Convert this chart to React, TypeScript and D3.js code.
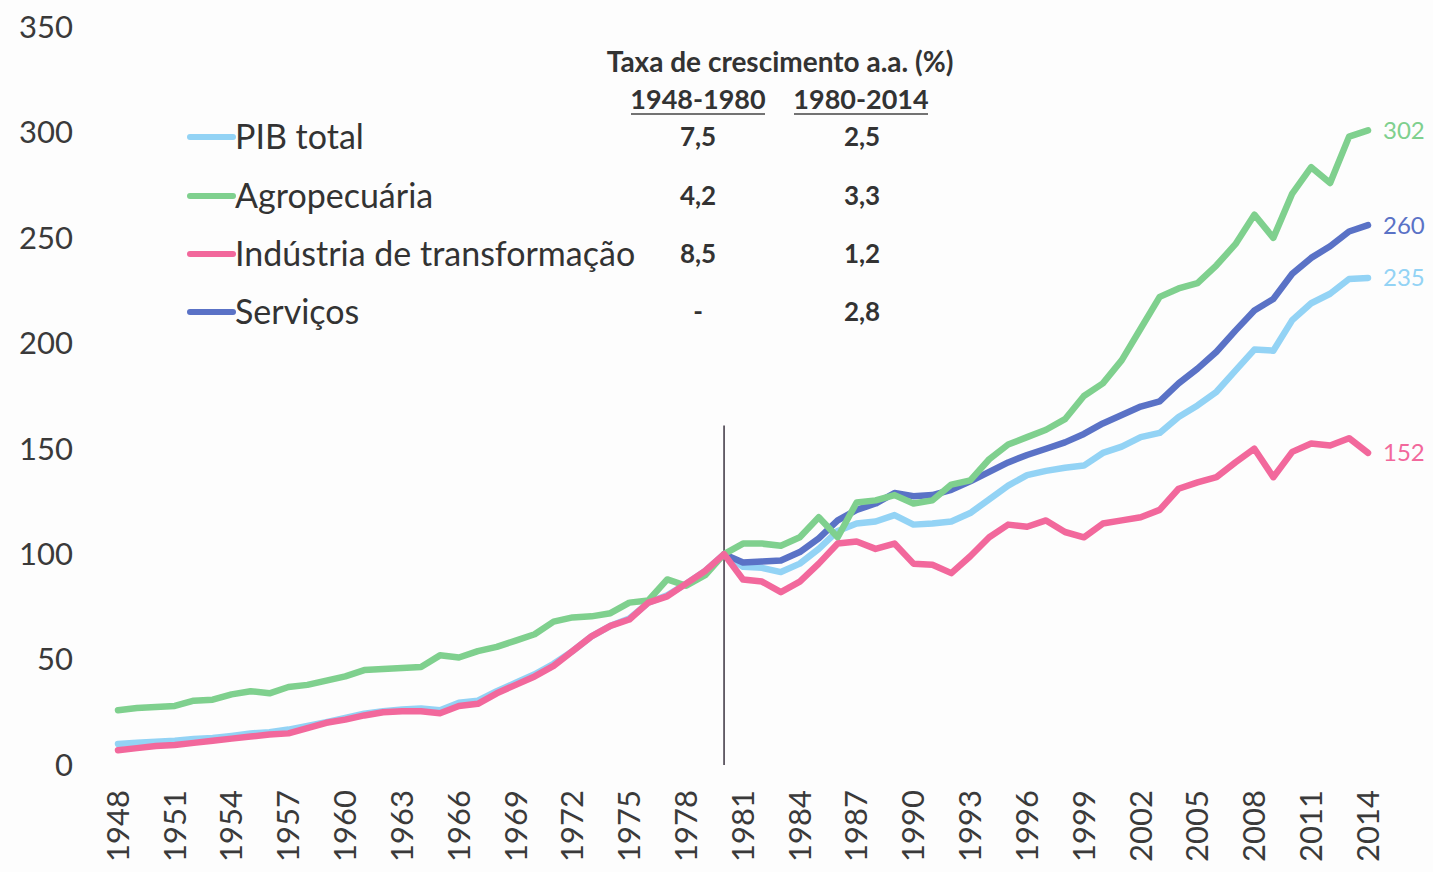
import React, { useEffect, useRef } from 'react';
import * as d3 from 'd3';

// Index (1980 = 100)
const yearsEarly = d3.range(1948, 1981);
const yearsLate = d3.range(1980, 2015);

const pibEarly = [
  10, 10.5, 11, 11.5, 12.3, 12.8, 13.8, 15, 15.5, 16.8, 18.5, 20.3, 22.3, 24.3, 25.5, 26.3, 26.8,
  26, 29.5, 30.5, 35, 39, 43, 48, 54, 61, 66, 69.5, 77, 80.5, 86, 92, 100,
];
const pibLate = [
  100, 94, 93.5, 91.5, 95.5, 102.5, 111, 114.5, 115.5, 118.5, 114, 114.5, 115.5, 119.5, 126, 132.5,
  137.5, 139.5, 141, 142, 148, 151, 155.5, 157.5, 165, 170.5, 177, 187, 197, 196.5, 211, 219, 223.5,
  230.5, 231,
];

const agroEarly = [
  26, 27, 27.5, 28, 30.5, 31, 33.5, 35, 34, 37, 38, 40, 42, 45, 45.5, 46, 46.5, 52, 51, 54, 56, 59,
  62, 68, 70, 70.5, 72, 77, 78, 88, 85, 90, 100,
];
const agroLate = [
  100, 105, 105, 104, 108, 117.5, 108, 124.5, 125.5, 128, 124, 125.5, 133, 135, 145, 152, 155.5,
  159, 164, 175, 181, 192, 207, 222, 226, 228.5, 237, 247, 261, 250, 271, 283.5, 276, 298, 301,
];

const indEarly = [
  7, 8, 9, 9.5, 10.5, 11.5, 12.5, 13.5, 14.5, 15, 17.5, 20, 21.5, 23.5, 25, 25.5, 25.5, 24.5, 28,
  29, 34, 38, 42, 47, 54, 61, 66, 69, 77, 80, 86, 92, 100,
];
const indLate = [
  100, 88, 87, 82, 87, 95.5, 105, 106, 102.5, 105, 95.5, 95, 91, 99, 108, 114, 113, 116, 110.5, 108,
  114.5, 116, 117.5, 121, 131, 134, 136.5, 143.5, 150, 136.5, 148.5, 152.5, 151.5, 155, 148,
];

const servLate = [
  100, 96, 96.5, 97, 101, 107.5, 116, 121, 124, 129, 127.5, 128, 130.5, 134.5, 139, 143.5, 147, 150,
  153, 157, 162, 166, 170, 172.5, 181, 188, 196, 206, 215.5, 221, 233, 240.5, 246, 253, 256,
];

const seriesNames = ['PIB total', 'Agropecuária', 'Indústria de transformação', 'Serviços'];
const seriesColors = ['#93d3f5', '#7fd08e', '#f2689c', '#5a72c6'];
const rateEarly = ['7,5', '4,2', '8,5', '-'];
const rateLate = ['2,5', '3,3', '1,2', '2,8'];
const endLabels = ['235', '302', '152', '260'];

const yTicks = [0, 50, 100, 150, 200, 250, 300, 350];
const xTickYears = d3.range(1948, 2015, 3);

const W = 1433;
const H = 872;

export default function App() {
  const svgRef = useRef<SVGSVGElement>(null);

  useEffect(() => {
    const svg = d3.select(svgRef.current);
    svg.selectAll('*').remove();

    const font = 'Lato, "Open Sans", sans-serif';
    const x = d3.scaleLinear().domain([1948, 2014]).range([118, 1368]);
    const y = d3.scaleLinear().domain([0, 350]).range([765, 27]);

    svg.append('rect').attr('width', W).attr('height', H).attr('fill', '#fdfdfd');

    // ── Y axis labels (no line) ─────────────────────────────
    svg
      .append('g')
      .selectAll('text')
      .data(yTicks)
      .join('text')
      .attr('x', 73)
      .attr('y', (d) => y(d))
      .attr('dy', '0.35em')
      .attr('text-anchor', 'end')
      .style('font', `31px ${font}`)
      .attr('fill', '#3a3a3a')
      .text((d) => d);

    // ── X axis labels, rotated ─────────────────────────────
    svg
      .append('g')
      .selectAll('text')
      .data(xTickYears)
      .join('text')
      .attr('transform', (d) => `translate(${x(d)},790) rotate(-90)`)
      .attr('dy', '0.35em')
      .attr('text-anchor', 'end')
      .style('font', `31px ${font}`)
      .attr('fill', '#3a3a3a')
      .text((d) => d);

    // ── Vertical divider at 1980 ───────────────────────────
    svg
      .append('line')
      .attr('x1', x(1980))
      .attr('x2', x(1980))
      .attr('y1', y(161))
      .attr('y2', y(0))
      .attr('stroke', '#3b3340')
      .attr('stroke-width', 1.5);

    // ── Lines ──────────────────────────────────────────────
    const line = d3
      .line<[number, number]>()
      .x((d) => x(d[0]))
      .y((d) => y(d[1]));

    const zip = (ys: number[], vs: number[]) => ys.map((yr, i) => [yr, vs[i]] as [number, number]);

    const lines = [
      { data: zip(yearsEarly, pibEarly).concat(zip(yearsLate, pibLate).slice(1)), i: 0 },
      { data: zip(yearsLate, servLate), i: 3 },
      { data: zip(yearsEarly, agroEarly).concat(zip(yearsLate, agroLate).slice(1)), i: 1 },
      { data: zip(yearsEarly, indEarly).concat(zip(yearsLate, indLate).slice(1)), i: 2 },
    ];

    svg
      .append('g')
      .selectAll('path')
      .data(lines)
      .join('path')
      .attr('d', (d) => line(d.data))
      .attr('fill', 'none')
      .attr('stroke', (d) => seriesColors[d.i])
      .attr('stroke-width', 6.5)
      .attr('stroke-linejoin', 'round')
      .attr('stroke-linecap', 'round');

    // ── End labels ─────────────────────────────────────────
    const lastVals = [pibLate, agroLate, indLate, servLate].map((a) => a[a.length - 1]);
    svg
      .append('g')
      .selectAll('text')
      .data(endLabels)
      .join('text')
      .attr('x', 1383)
      .attr('y', (_d, i) => y(lastVals[i]))
      .attr('dy', '0.35em')
      .style('font', `24px ${font}`)
      .attr('fill', (_d, i) => seriesColors[i])
      .text((d) => d);

    // ── Legend + growth table ──────────────────────────────
    const rowY = [137, 196, 254, 312];
    const legend = svg.append('g');
    const rows = legend
      .selectAll('g')
      .data(seriesNames)
      .join('g')
      .attr('transform', (_d, i) => `translate(0,${rowY[i]})`);
    rows
      .append('line')
      .attr('x1', 190)
      .attr('x2', 233)
      .attr('stroke', (_d, i) => seriesColors[i])
      .attr('stroke-width', 6)
      .attr('stroke-linecap', 'round');
    rows
      .append('text')
      .attr('x', 235)
      .attr('dy', '0.35em')
      .style('font', `34px ${font}`)
      .attr('fill', '#333')
      .text((d) => d);
    rows
      .append('text')
      .attr('x', 698)
      .attr('dy', '0.35em')
      .attr('text-anchor', 'middle')
      .style('font', `bold 26px ${font}`)
      .attr('fill', '#333')
      .text((_d, i) => rateEarly[i]);
    rows
      .append('text')
      .attr('x', 862)
      .attr('dy', '0.35em')
      .attr('text-anchor', 'middle')
      .style('font', `bold 26px ${font}`)
      .attr('fill', '#333')
      .text((_d, i) => rateLate[i]);

    legend
      .append('text')
      .attr('x', 780)
      .attr('y', 62)
      .attr('dy', '0.35em')
      .attr('text-anchor', 'middle')
      .style('font', `bold 28px ${font}`)
      .attr('fill', '#333')
      .text('Taxa de crescimento a.a. (%)');

    const periods = [
      { label: '1948-1980', cx: 698 },
      { label: '1980-2014', cx: 861 },
    ];
    const ph = legend.selectAll('g.period').data(periods).join('g').attr('class', 'period');
    ph.append('text')
      .attr('x', (d) => d.cx)
      .attr('y', 100)
      .attr('dy', '0.35em')
      .attr('text-anchor', 'middle')
      .style('font', `bold 27px ${font}`)
      .attr('fill', '#333')
      .text((d) => d.label);
    ph.append('line')
      .attr('x1', (d) => d.cx - 67)
      .attr('x2', (d) => d.cx + 67)
      .attr('y1', 114)
      .attr('y2', 114)
      .attr('stroke', '#444')
      .attr('stroke-width', 1.5);
  }, []);

  return (
    <svg
      ref={svgRef}
      width={W}
      height={H}
      style={{ position: 'absolute', left: 0, top: 0 }}
    />
  );
}
